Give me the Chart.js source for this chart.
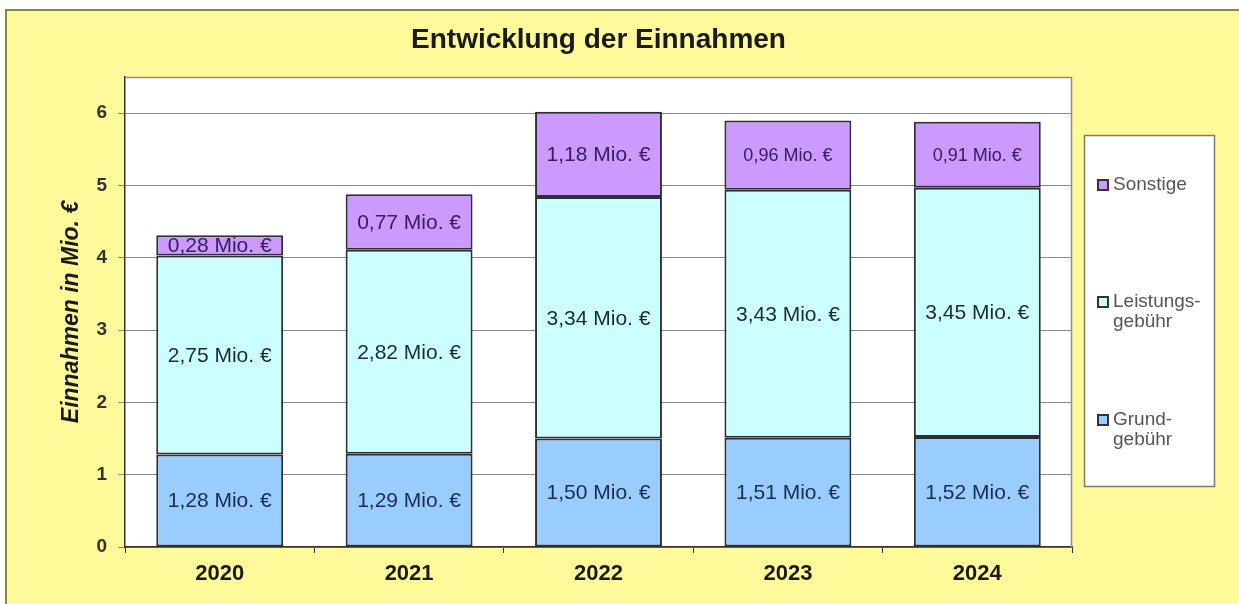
<!doctype html>
<html>
<head>
<meta charset="utf-8">
<title>Entwicklung der Einnahmen</title>
<script src="https://cdn.jsdelivr.net/npm/chart.js@4.4.1/dist/chart.umd.min.js"></script>
<style>
	html, body {
		margin: 0;
		padding: 0;
		background: #fff;
	}
	canvas {
		display: block;
	}
</style>
</head>
<body>
<canvas id="chart" width="1239" height="604"></canvas>
<script>
var years = ['2020', '2021', '2022', '2023', '2024'];
var grundgebuehr = [1.28, 1.29, 1.50, 1.51, 1.52];
var leistungsgebuehr = [2.75, 2.82, 3.34, 3.43, 3.45];
var sonstige = [0.28, 0.77, 1.18, 0.96, 0.91];
var yTicks = [0, 1, 2, 3, 4, 5, 6];

var FONT = '"Liberation Sans", Arial, sans-serif';

function fmt(v) {
	return v.toFixed(2).replace('.', ',') + ' Mio. €';
}

// yellow frame + white plot background
var framePlugin = {
	id: 'frame',
	beforeDraw: function(chart) {
		var ctx = chart.ctx, a = chart.chartArea;
		ctx.save();
		ctx.fillStyle = '#fff';
		ctx.fillRect(0, 0, chart.width, chart.height);
		ctx.fillStyle = '#fffa99';
		ctx.fillRect(6, 10, chart.width, chart.height);
		ctx.strokeStyle = '#8a8a3c';
		ctx.lineWidth = 2;
		ctx.beginPath();
		ctx.moveTo(6, chart.height);
		ctx.lineTo(6, 10);
		ctx.lineTo(chart.width, 10);
		ctx.stroke();
		ctx.fillStyle = '#fff';
		ctx.fillRect(a.left, a.top, a.right - a.left, a.bottom - a.top);
		ctx.restore();
	},
	afterDraw: function(chart) {
		var ctx = chart.ctx, a = chart.chartArea;
		ctx.save();
		ctx.strokeStyle = '#8c8c8c';
		ctx.lineWidth = 1.5;
		ctx.beginPath();
		ctx.moveTo(a.left, a.top + 0.5);
		ctx.lineTo(a.right - 0.5, a.top + 0.5);
		ctx.lineTo(a.right - 0.5, a.bottom);
		ctx.stroke();
		ctx.restore();
	}
};

// value labels in the middle of each segment
var segLabels = {
	id: 'segLabels',
	afterDatasetsDraw: function(chart, args, opts) {
		var ctx = chart.ctx;
		ctx.save();
		ctx.textAlign = 'center';
		ctx.textBaseline = 'middle';
		chart.data.datasets.forEach(function(ds, di) {
			var meta = chart.getDatasetMeta(di);
			meta.data.forEach(function(bar, i) {
				var p = bar.getProps(['x', 'y', 'base'], true);
				var small = opts.small.indexOf(di + ':' + i) >= 0;
				ctx.font = (small ? 18 : 21) + 'px ' + FONT;
				ctx.fillStyle = ds.labelColor;
				ctx.fillText(fmt(ds.data[i]), p.x, (p.y + p.base) / 2 + 1);
			});
		});
		ctx.restore();
	}
};

// legend box on the right
var sideLegend = {
	id: 'sideLegend',
	afterDraw: function(chart, args, opts) {
		var ctx = chart.ctx;
		ctx.save();
		ctx.fillStyle = '#fff';
		ctx.fillRect(1084, 135, 131, 352);
		ctx.strokeStyle = '#7d7d6a';
		ctx.lineWidth = 1.5;
		ctx.strokeRect(1084.5, 135.5, 130, 351);
		ctx.font = '19px ' + FONT;
		ctx.textAlign = 'left';
		ctx.textBaseline = 'middle';
		opts.items.forEach(function(item) {
			var ds = chart.data.datasets[item.dataset];
			ctx.fillStyle = ds.backgroundColor;
			ctx.fillRect(1098, item.y - 5, 10, 10);
			ctx.strokeStyle = '#333';
			ctx.lineWidth = 2;
			ctx.strokeRect(1098, item.y - 5, 10, 10);
			ctx.fillStyle = '#555';
			item.lines.forEach(function(line, k) {
				ctx.fillText(line, 1113, item.y + k * 20);
			});
		});
		ctx.restore();
	}
};

var ctx = document.getElementById('chart').getContext('2d');
new Chart(ctx, {
	type: 'bar',
	data: {
		labels: years,
		datasets: [{
			label: 'Grundgebühr',
			data: grundgebuehr,
			backgroundColor: '#99ccff',
			labelColor: '#1c2c4c'
		}, {
			label: 'Leistungsgebühr',
			data: leistungsgebuehr,
			backgroundColor: '#ccffff',
			labelColor: '#1f2933'
		}, {
			label: 'Sonstige',
			data: sonstige,
			backgroundColor: '#cc99ff',
			labelColor: '#35205a'
		}]
	},
	options: {
		responsive: false,
		animation: false,
		devicePixelRatio: 1,
		datasets: {
			bar: {
				barPercentage: 0.67,
				categoryPercentage: 1,
				borderWidth: 2,
				borderColor: '#2e2e33',
				borderSkipped: false
			}
		},
		layout: {
			padding: { left: 0, right: 167, top: 0, bottom: 0 }
		},
		scales: {
			x: {
				stacked: true,
				offset: true,
				grid: {
					display: true,
					offset: true,
					drawOnChartArea: false,
					drawTicks: true,
					tickLength: 6,
					color: '#333'
				},
				border: { color: '#333', width: 1.5 },
				ticks: {
					color: '#1a1a1a',
					padding: 8,
					font: { family: FONT, size: 22, weight: 'bold' }
				},
				afterFit: function(s) { s.height = 57; }
			},
			y: {
				stacked: true,
				min: 0,
				max: 6.5,
				afterBuildTicks: function(s) {
					s.ticks = yTicks.map(function(v) { return { value: v }; });
				},
				ticks: {
					color: '#333',
					padding: 11,
					font: { family: FONT, size: 19, weight: 'bold' }
				},
				grid: { color: '#8a8a8a', lineWidth: 1, tickLength: 7 },
				border: { color: '#333', width: 1.5 },
				title: {
					display: true,
					text: 'Einnahmen in Mio. €',
					color: '#1a1a1a',
					padding: { top: 58, bottom: 0 },
					font: { family: FONT, size: 23, weight: 'bold', style: 'italic' }
				},
				afterFit: function(s) { s.width = 125; }
			}
		},
		plugins: {
			legend: { display: false },
			tooltip: { enabled: false },
			title: {
				display: true,
				fullSize: false,
				text: 'Entwicklung der Einnahmen',
				color: '#1a1a1a',
				padding: { top: 23, bottom: 20.4 },
				font: { family: FONT, size: 28, weight: 'bold', lineHeight: 1.2 }
			},
			segLabels: {
				small: ['2:3', '2:4']
			},
			sideLegend: {
				items: [
					{ dataset: 2, y: 185, lines: ['Sonstige'] },
					{ dataset: 1, y: 302, lines: ['Leistungs-', 'gebühr'] },
					{ dataset: 0, y: 420, lines: ['Grund-', 'gebühr'] }
				]
			}
		}
	},
	plugins: [framePlugin, segLabels, sideLegend]
});
</script>
</body>
</html>
